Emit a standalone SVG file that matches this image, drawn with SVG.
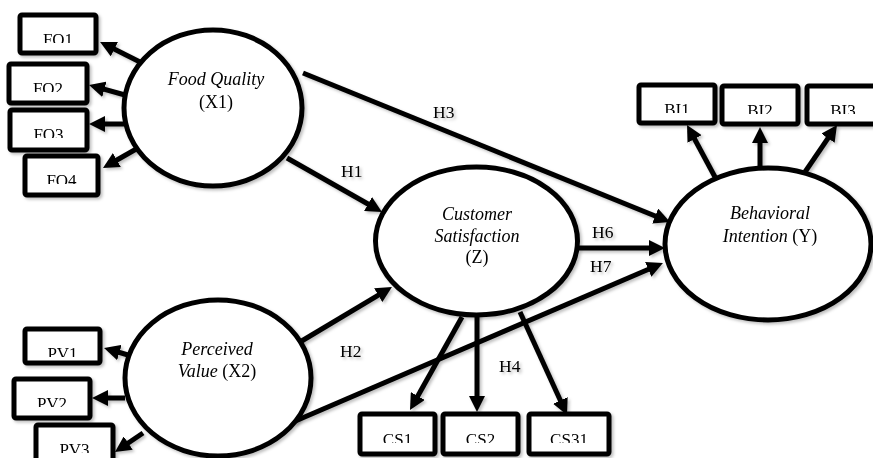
<svg xmlns="http://www.w3.org/2000/svg" width="873" height="458" viewBox="0 0 873 458">
<style>
.box{fill:#fff;stroke:#000;stroke-width:5}
.ell{fill:#fff;stroke:#000;stroke-width:5}
.lbl{font-family:"Liberation Serif","Times New Roman",serif;font-size:17px;fill:#000;text-anchor:middle}
.t{font-family:"Liberation Serif","Times New Roman",serif;font-size:18px;fill:#000;text-anchor:middle}
.i{font-style:italic}
.h{font-family:"Liberation Serif","Times New Roman",serif;font-size:17.5px;fill:#000}
.c{stroke:#000;stroke-width:5;fill:none;marker-end:url(#ah)}
</style>
<defs>
<marker id="ah" viewBox="0 0 16 16" refX="8" refY="8" markerWidth="16" markerHeight="16" markerUnits="userSpaceOnUse" orient="auto">
<path d="M0,0 L16,8 L0,16 z" fill="#000"/>
</marker>
<filter id="sh" x="-10%" y="-10%" width="130%" height="130%">
<feDropShadow dx="2" dy="2" stdDeviation="1.5" flood-color="#000" flood-opacity="0.25"/>
</filter>
</defs>
<rect width="873" height="458" fill="#fff"/>
<g id="connectors" filter="url(#sh)">
<line class="c" x1="140" y1="62" x2="107.2" y2="45.6"/>
<line class="c" x1="125" y1="95" x2="96.7" y2="87.1"/>
<line class="c" x1="124" y1="124" x2="97" y2="124"/>
<line class="c" x1="138" y1="148" x2="109.9" y2="164"/>
<line class="c" x1="128" y1="355" x2="111.7" y2="350.2"/>
<line class="c" x1="125" y1="398" x2="100" y2="398"/>
<line class="c" x1="143" y1="433" x2="121.6" y2="447.5"/>
<line class="c" x1="287" y1="158" x2="375" y2="208"/>
<line class="c" x1="303" y1="73" x2="662.6" y2="219"/>
<line class="c" x1="300" y1="342" x2="385.1" y2="291.1"/>
<line class="c" x1="578" y1="248" x2="657" y2="248"/>
<line class="c" x1="293" y1="422" x2="655.6" y2="266.2"/>
<line class="c" x1="462" y1="317" x2="413.9" y2="403"/>
<line class="c" x1="477" y1="313" x2="477" y2="404"/>
<line class="c" x1="520" y1="312" x2="563.7" y2="407.7"/>
<line class="c" x1="715" y1="177" x2="690.8" y2="132"/>
<line class="c" x1="760" y1="168" x2="760" y2="135"/>
<line class="c" x1="805" y1="172" x2="832.5" y2="131.6"/>
<text class="h" x="341" y="177">H1</text>
<text class="h" x="340" y="357">H2</text>
<text class="h" x="433" y="118">H3</text>
<text class="h" x="499" y="372">H4</text>
<text class="h" x="592" y="238">H6</text>
<text class="h" x="590" y="272">H7</text>
</g>
<g id="FQ" filter="url(#sh)">
<ellipse class="ell" cx="213" cy="108" rx="89" ry="78"/>
<text class="t i" x="216" y="85">Food Quality</text>
<text class="t" x="216" y="108">(X1)</text>
</g>
<g id="PV" filter="url(#sh)">
<ellipse class="ell" cx="218" cy="378" rx="93" ry="78"/>
<text class="t i" x="217" y="355">Perceived</text>
<text class="t" x="217" y="377"><tspan class="i">Value</tspan> (X2)</text>
</g>
<g id="CS" filter="url(#sh)">
<ellipse class="ell" cx="476.5" cy="241" rx="101" ry="74"/>
<text class="t i" x="477" y="220">Customer</text>
<text class="t i" x="477" y="242">Satisfaction</text>
<text class="t" x="477" y="263">(Z)</text>
</g>
<g id="BI" filter="url(#sh)">
<ellipse class="ell" cx="768" cy="244" rx="103" ry="76"/>
<text class="t i" x="770" y="219">Behavioral</text>
<text class="t" x="770" y="242"><tspan class="i">Intention</tspan> (Y)</text>
</g>
<g id="FQ1" filter="url(#sh)"><rect class="box" x="20" y="15" width="76" height="38" rx="2"/><svg x="20" y="15" width="76" height="28"><text class="lbl" x="38" y="30">FQ1</text></svg></g>
<g id="FQ2" filter="url(#sh)"><rect class="box" x="9" y="64" width="78" height="39" rx="2"/><svg x="9" y="64" width="78" height="28"><text class="lbl" x="39" y="30">FQ2</text></svg></g>
<g id="FQ3" filter="url(#sh)"><rect class="box" x="10" y="110" width="77" height="40" rx="2"/><svg x="10" y="110" width="77" height="28"><text class="lbl" x="38.5" y="30">FQ3</text></svg></g>
<g id="FQ4" filter="url(#sh)"><rect class="box" x="25" y="156" width="73" height="39" rx="2"/><svg x="25" y="156" width="73" height="28"><text class="lbl" x="36.5" y="30">FQ4</text></svg></g>
<g id="PV1" filter="url(#sh)"><rect class="box" x="25" y="329" width="75" height="34" rx="2"/><svg x="25" y="329" width="75" height="28"><text class="lbl" x="37.5" y="30">PV1</text></svg></g>
<g id="PV2" filter="url(#sh)"><rect class="box" x="14" y="379" width="76" height="39" rx="2"/><svg x="14" y="379" width="76" height="28"><text class="lbl" x="38" y="30">PV2</text></svg></g>
<g id="PV3" filter="url(#sh)"><rect class="box" x="36" y="425" width="77" height="40" rx="2"/><svg x="36" y="425" width="77" height="28"><text class="lbl" x="38.5" y="30">PV3</text></svg></g>
<g id="CS1" filter="url(#sh)"><rect class="box" x="360" y="414" width="75" height="40" rx="2"/><svg x="360" y="414" width="75" height="29"><text class="lbl" x="37.5" y="31">CS1</text></svg></g>
<g id="CS2" filter="url(#sh)"><rect class="box" x="443" y="414" width="75" height="40" rx="2"/><svg x="443" y="414" width="75" height="29"><text class="lbl" x="37.5" y="31">CS2</text></svg></g>
<g id="CS31" filter="url(#sh)"><rect class="box" x="529" y="414" width="80" height="40" rx="2"/><svg x="529" y="414" width="80" height="29"><text class="lbl" x="40" y="31">CS31</text></svg></g>
<g id="BI1" filter="url(#sh)"><rect class="box" x="639" y="85" width="76" height="38" rx="2"/><svg x="639" y="85" width="76" height="28"><text class="lbl" x="38" y="30">BI1</text></svg></g>
<g id="BI2" filter="url(#sh)"><rect class="box" x="722" y="86" width="76" height="38" rx="2"/><svg x="722" y="86" width="76" height="28"><text class="lbl" x="38" y="30">BI2</text></svg></g>
<g id="BI3" filter="url(#sh)"><rect class="box" x="807" y="86" width="76" height="38" rx="2"/><svg x="807" y="86" width="76" height="28"><text class="lbl" x="36" y="30">BI3</text></svg></g>
</svg>
